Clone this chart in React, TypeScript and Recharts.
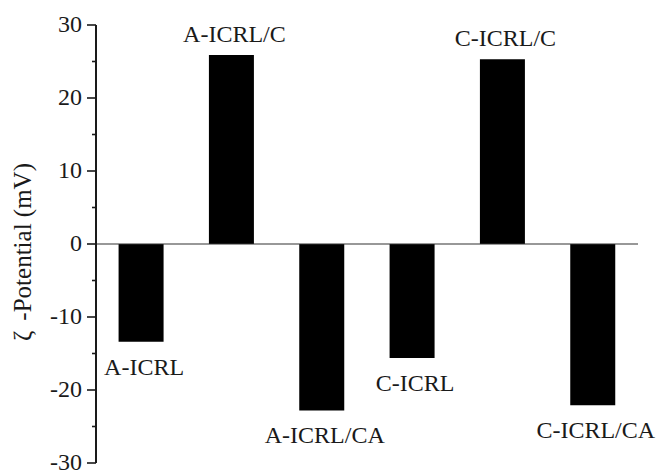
import { Bar, BarChart, LabelList, ReferenceLine, XAxis, YAxis } from "recharts";

const samples = ["A-ICRL", "A-ICRL/C", "A-ICRL/CA", "C-ICRL", "C-ICRL/C", "C-ICRL/CA"];
const zeta = [-13.4, 25.9, -22.8, -15.6, 25.3, -22.1];
const majorTicks = [-30, -20, -10, 0, 10, 20, 30];
const minorTicks = [-25, -15, -5, 5, 15, 25];

const data = samples.map((name, i) => ({ name, zeta: zeta[i] }));

const textStyle = { fontFamily: "Liberation Serif", fontSize: 24 };
const INK = "#1a1a1a";

function AxisTick(props: any) {
  const { x, y, payload } = props;
  const axisX = x + 14;
  const major = majorTicks.includes(payload.value);
  return (
    <g>
      <line
        x1={axisX - (major ? 9 : 4)}
        x2={axisX}
        y1={y}
        y2={y}
        stroke={INK}
        strokeWidth={1.6}
      />
      {major && (
        <text x={x} y={y} dy="0.28em" textAnchor="end" style={textStyle} fill={INK}>
          {payload.value}
        </text>
      )}
    </g>
  );
}

function SampleLabel(props: any) {
  const { x, y, width, height, value, index } = props;
  const top = Math.min(y, y + height);
  const bottom = Math.max(y, y + height);
  const negative = zeta[index] < 0;
  return (
    <text
      x={x + width / 2 + 3}
      y={negative ? bottom + 33 : top - 13}
      textAnchor="middle"
      style={textStyle}
      fill={INK}
    >
      {value}
    </text>
  );
}

function YTitle() {
  return (
    <text
      transform="translate(31, 252) rotate(-90)"
      textAnchor="middle"
      style={{ ...textStyle, fontSize: 25 }}
      fill={INK}
    >
      <tspan>ζ</tspan>
      <tspan dx={10}>-Potential (mV)</tspan>
    </text>
  );
}

export default function App() {
  return (
    <div style={{ position: "absolute", left: 0, top: 0, background: "#fff" }}>
      <BarChart
        width={657}
        height={475}
        data={data}
        margin={{ top: 25, right: 19, left: 0, bottom: 12 }}
        barCategoryGap="25%"
      >
        <XAxis dataKey="name" hide />
        <YAxis
          width={96}
          domain={[-30, 30]}
          ticks={[...majorTicks, ...minorTicks].sort((a, b) => a - b)}
          interval={0}
          tickSize={8}
          tickMargin={6}
          tickLine={false}
          axisLine={{ stroke: INK, strokeWidth: 2 }}
          tick={<AxisTick />}
          label={<YTitle />}
        />
        <ReferenceLine y={0} stroke="#333" strokeWidth={1.2} />
        <Bar dataKey="zeta" fill="#000" isAnimationActive={false}>
          <LabelList dataKey="name" content={<SampleLabel />} />
        </Bar>
      </BarChart>
    </div>
  );
}
